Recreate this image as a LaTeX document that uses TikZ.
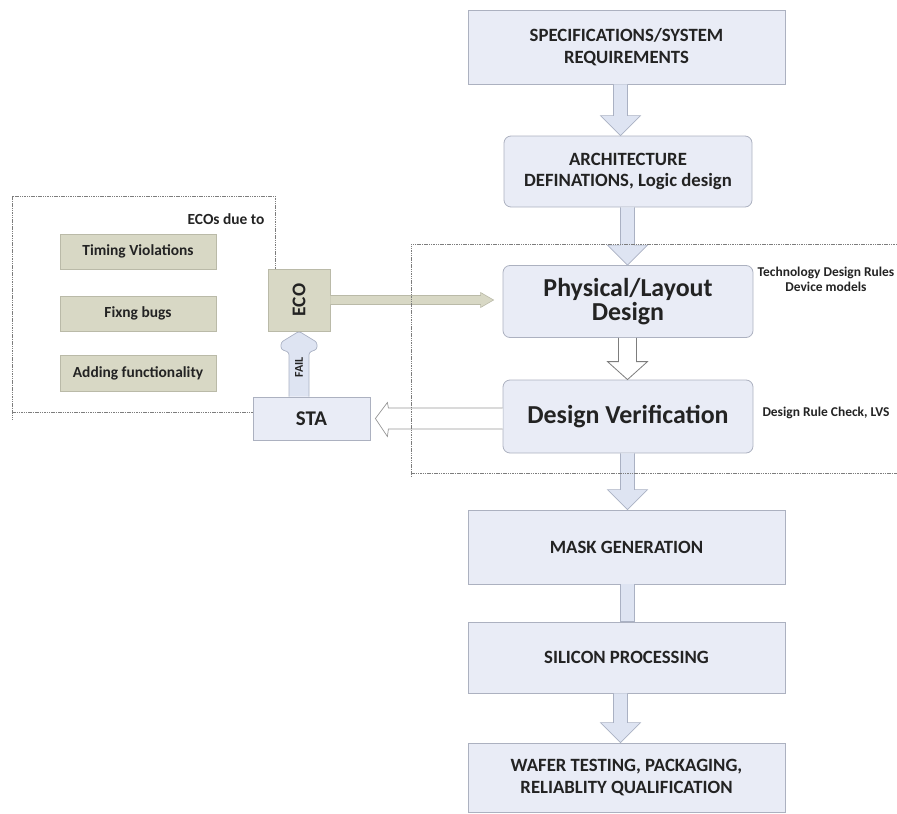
\documentclass[tikz,border=0pt]{standalone}
\usepackage{fontspec}
\setmainfont{Carlito}
\usetikzlibrary{calc}
\definecolor{boxfill}{RGB}{233,236,246}
\definecolor{boxline}{RGB}{172,177,192}
\definecolor{olivefill}{RGB}{216,216,197}
\definecolor{oliveline}{RGB}{186,186,168}
\definecolor{arrowfill}{RGB}{222,228,242}
\definecolor{arrowline}{RGB}{170,177,195}
\definecolor{framecol}{RGB}{125,125,125}
\definecolor{inkcol}{RGB}{35,35,35}
% downward block arrow from the bottom of #2 to the top of #3, on the column of #4
\newcommand\flowdown[4][]{%
  \filldraw[blockarrow,#1]
    ($(#2.south -| #4)+(-7,0)$) -- ($(#3.north -| #4)+(-7,-20)$)
    -- ($(#3.north -| #4)+(-20,-20)$) -- (#3.north -| #4)
    -- ($(#3.north -| #4)+(20,-20)$) -- ($(#3.north -| #4)+(7,-20)$)
    -- ($(#2.south -| #4)+(7,0)$);}
\begin{document}
\begin{tikzpicture}[x=1bp,y=-1bp,
  every node/.style={text=inkcol},
  stage/.style={draw=boxline, fill=boxfill, line width=0.8bp, inner sep=0pt,
    minimum width=317bp, minimum height=74bp, align=center,
    font=\bfseries\fontsize{18.8}{21.5}\selectfont},
  roundstage/.style={stage, rounded corners=7bp},
  bigstage/.style={roundstage, minimum width=250bp, minimum height=72bp,
    font=\bfseries\fontsize{26}{23.5}\selectfont},
  cause/.style={draw=oliveline, fill=olivefill, line width=0.6bp, inner sep=0pt,
    minimum width=156bp, minimum height=35bp, font=\bfseries\fontsize{15.5}{18}\selectfont},
  note/.style={align=center, font=\bfseries\fontsize{13.5}{15.5}\selectfont},
  blockarrow/.style={draw=arrowline, fill=arrowfill, line width=0.7bp},
  hollowarrow/.style={draw=framecol, fill=white, line width=0.8bp},
  frame/.style={draw=framecol, line width=0.6bp, dash pattern=on 1.5bp off 0.8bp}
]
\useasboundingbox (0,0) rectangle (897,814);

% main flow
\node[stage] (spec) at (626.5,47) {SPECIFICATIONS/SYSTEM\\REQUIREMENTS};
\node[roundstage, minimum width=248bp, minimum height=71bp] (arch) at (628,171.5)
  {ARCHITECTURE\\DEFINATIONS, Logic design};
\node[bigstage] (phys) at (628,301.5) {Physical/Layout\\Design};
\node[bigstage, minimum height=73bp] (dv) at (628,416.5) {Design Verification};
\node[stage, minimum height=74bp] (mask) at (626.5,547) {MASK GENERATION};
\node[stage, minimum height=71bp] (sil) at (626.5,657.5) {SILICON PROCESSING};
\node[stage, minimum height=69bp] (wafer) at (626.5,777.5)
  {WAFER TESTING, PACKAGING,\\RELIABLITY QUALIFICATION};

% notes beside the verification loop
\node[note] (rules) at (826,279.5) {Technology Design Rules\\Device models};
\node[note] (drc) at (826,413) {Design Rule Check, LVS};

% ECO loop
\node[draw=oliveline, fill=olivefill, line width=0.6bp, minimum width=62bp,
  minimum height=62bp, inner sep=0pt] (eco) at (299,300) {};
\node[rotate=90, font=\bfseries\fontsize{19.5}{20}\selectfont] (ecotxt) at (eco.center) {ECO};
\node[stage, minimum width=117bp, minimum height=43bp,
  font=\bfseries\fontsize{21}{22}\selectfont] (sta) at (311.5,418.5) {STA};

\node[cause] (tv) at (138,251.5) {Timing Violations};
\node[cause] (fb) at (138,313.5) {Fixng bugs};
\node[cause, minimum height=36bp] (af) at (138,373) {Adding functionality};
\node[anchor=east, font=\bfseries\fontsize{15.5}{18}\selectfont] (due) at (268,219) {ECOs due to};

% column lines for the vertical arrows
\coordinate (colA) at (620.5,0);
\coordinate (colB) at (627.5,0);

\flowdown{spec}{arch}{colA}
\flowdown{arch}{phys}{colB}
\flowdown{dv}{mask}{colB}
\flowdown{sil}{wafer}{colA}

% plain bar between mask generation and silicon processing
\filldraw[blockarrow] ($(mask.south -| colB)+(-7,0)$) -- ($(sil.north -| colB)+(-7,0)$)
  -- ($(sil.north -| colB)+(7,0)$) -- ($(mask.south -| colB)+(7,0)$);

% hollow arrow from layout to verification
\filldraw[hollowarrow]
  ($(phys.south -| colB)+(-9,0)$) -- ($(dv.north -| colB)+(-9,-18)$)
  -- ($(dv.north -| colB)+(-20,-18)$) -- (dv.north -| colB)
  -- ($(dv.north -| colB)+(20,-18)$) -- ($(dv.north -| colB)+(9,-18)$)
  -- ($(phys.south -| colB)+(9,0)$);

% hollow arrow from verification back to STA
\coordinate (statip) at ($(sta.east)+(5,0)$);
\filldraw[draw=framecol!80, fill=white, line width=0.7bp]
  ($(dv.west |- statip)+(0,-10.5)$) -- ($(statip)+(13,-10.5)$)
  -- ($(statip)+(12,-16)$) -- (statip) -- ($(statip)+(12,18)$)
  -- ($(statip)+(13,10.5)$) -- ($(dv.west |- statip)+(0,10.5)$);

% ECO feeds back into the layout step
\coordinate (ecotip) at ($(phys.west |- eco.east)+(-9,0)$);
\filldraw[draw=oliveline, fill=olivefill, line width=0.6bp]
  ($(eco.east)+(0,-4.5)$) -- ($(ecotip)+(-13,-4.5)$) -- ($(ecotip)+(-13,-7.5)$)
  -- (ecotip) -- ($(ecotip)+(-13,7.5)$) -- ($(ecotip)+(-13,4.5)$)
  -- ($(eco.east)+(0,4.5)$);

% FAIL arrow from STA up to ECO
\coordinate (failbase) at (sta.north -| eco.south);
\filldraw[blockarrow, rounded corners=2.5bp]
  ($(failbase)+(-10,0)$) -- ($(eco.south)+(-10,21)$) -- ($(eco.south)+(-18,18)$)
  -- ($(eco.south)+(-18,11)$) -- (eco.south) -- ($(eco.south)+(18,11)$)
  -- ($(eco.south)+(18,18)$) -- ($(eco.south)+(10,21)$) -- ($(failbase)+(10,0)$);
\node[rotate=90, font=\bfseries\fontsize{12}{13}\selectfont] (fail) at ($(failbase)!0.45!(eco.south)$) {FAIL};

% dotted frames
\draw[frame] (eco.north -| 275,0) -- (275,196) -- (12,196) -- (12,420);
\draw[frame] (12,412) -- (sta.west |- 0,412);
\draw[frame] (897,244) -- (411,244) -- (411,477);
\draw[frame] (411,473) -- (897,473);
\end{tikzpicture}
\end{document}
